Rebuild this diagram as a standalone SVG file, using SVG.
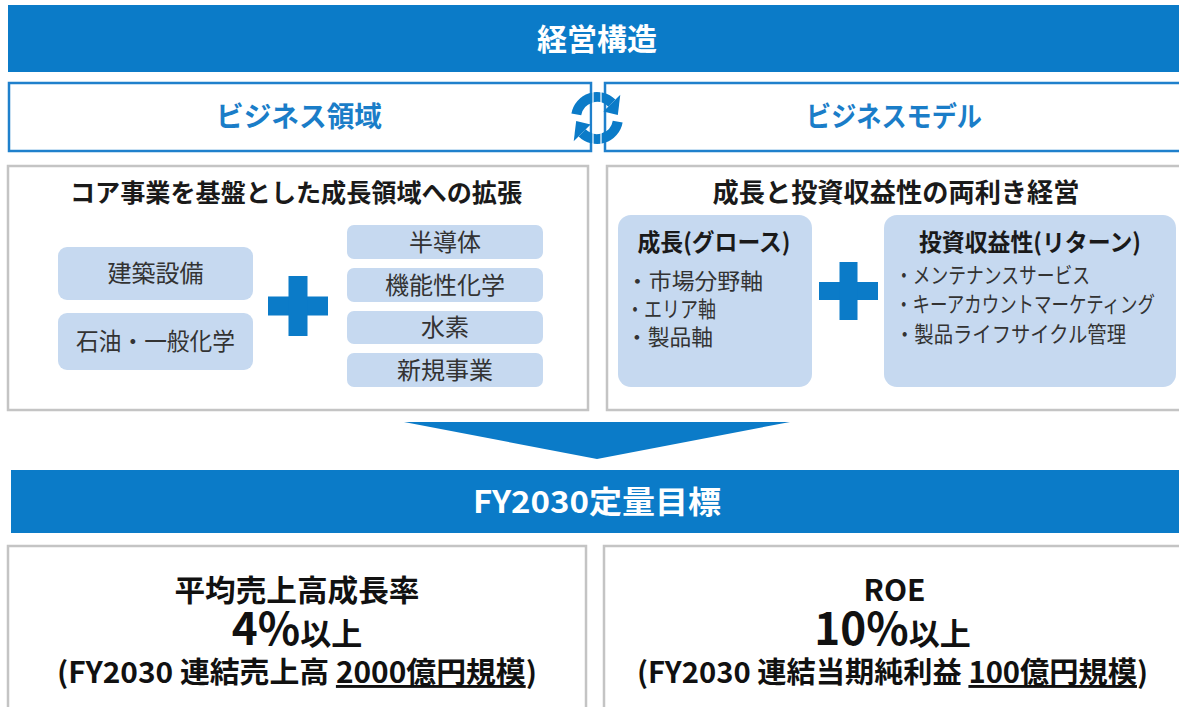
<svg xmlns="http://www.w3.org/2000/svg" width="1179" height="707" viewBox="0 0 1179 707">
<defs>
<style>
.bar{fill:#0B7BC8}
.bluebox{fill:#FFFFFF;stroke:#1F80CC;stroke-width:2.5}
.graybox{fill:#FFFFFF;stroke:#C4C4C4;stroke-width:2.5}
.pill{fill:#C6D9F0}
.plus{fill:#0B7BC8}
text{font-family:"Noto Sans CJK JP","Noto Sans",sans-serif}
.wt{fill:#FFFFFF;font-weight:700;text-anchor:middle}
.bt{fill:#1A7DC8;font-weight:700;font-size:28px;text-anchor:middle}
.ttl{fill:#1A1A1A;font-weight:700;text-anchor:middle}
.pt{fill:#333333;font-size:24px;text-anchor:middle}
.it{fill:#333333;font-size:22px}
.big{fill:#111111;font-weight:700;text-anchor:middle}
</style>
</defs>

<g id="header-structure">
<rect class="bar" x="8" y="5" width="1180" height="67"/>
<text class="wt" x="597" y="50" font-size="30">経営構造</text>
</g>

<g id="business-domain">
<rect class="bluebox" x="9" y="83" width="582" height="68"/>
<text class="bt" x="299" y="127" textLength="166" lengthAdjust="spacingAndGlyphs">ビジネス領域</text>
</g>

<g id="business-model">
<rect class="bluebox" x="605" y="83" width="600" height="68"/>
<text class="bt" x="894" y="127" textLength="176" lengthAdjust="spacingAndGlyphs">ビジネスモデル</text>
</g>

<g id="cycle-icon" fill="#0B7BC8" stroke="none">
<path d="M 576.3 114.4 A 21 21 0 0 1 611.85 103.15" fill="none" stroke="#0B7BC8" stroke-width="10"/>
<polygon points="603.4,111.6 620.3,94.7 617.8,115.1"/>
<path d="M 617.7 121.6 A 21 21 0 0 1 582.15 132.85" fill="none" stroke="#0B7BC8" stroke-width="10"/>
<polygon points="590.6,124.4 573.7,141.3 576.2,120.9"/>
<line x1="593" y1="92" x2="593" y2="144" stroke="#FFFFFF" stroke-width="1.2"/>
<line x1="601" y1="92" x2="601" y2="144" stroke="#FFFFFF" stroke-width="1.2"/>
</g>

<g id="core-expansion">
<rect class="graybox" x="8" y="166" width="580" height="244"/>
<text class="ttl" x="296" y="202" font-size="25" textLength="452" lengthAdjust="spacingAndGlyphs">コア事業を基盤とした成長領域への拡張</text>
<g id="pill-kenchiku"><rect class="pill" x="58" y="247" width="195" height="53" rx="9"/><text class="pt" x="155.5" y="282">建築設備</text></g>
<g id="pill-sekiyu"><rect class="pill" x="58" y="313" width="195" height="57" rx="9"/><text class="pt" x="155.5" y="349.5" textLength="159" lengthAdjust="spacingAndGlyphs">石油・一般化学</text></g>
<g id="plus-left"><rect class="plus" x="268" y="296.5" width="60" height="19"/><rect class="plus" x="288.5" y="276" width="19" height="60"/></g>
<g id="pill-handoutai"><rect class="pill" x="347" y="225" width="196" height="34" rx="7"/><text class="pt" x="445" y="250.5">半導体</text></g>
<g id="pill-kinousei"><rect class="pill" x="347" y="268" width="196" height="34" rx="7"/><text class="pt" x="445" y="293.5">機能性化学</text></g>
<g id="pill-suiso"><rect class="pill" x="347" y="311" width="196" height="33" rx="7"/><text class="pt" x="445" y="336">水素</text></g>
<g id="pill-shinki"><rect class="pill" x="347" y="353" width="196" height="34" rx="7"/><text class="pt" x="445" y="378.5">新規事業</text></g>
</g>

<g id="ambidextrous">
<rect class="graybox" x="607" y="166" width="600" height="244"/>
<text class="ttl" x="896" y="202" font-size="26" textLength="367" lengthAdjust="spacingAndGlyphs">成長と投資収益性の両利き経営</text>
<g id="growth">
<rect class="pill" x="618" y="215" width="194" height="172" rx="13"/>
<text class="ttl" x="714" y="251" font-size="24" textLength="153" lengthAdjust="spacingAndGlyphs">成長(グロース)</text>
<text class="it" x="626" y="289" textLength="137" lengthAdjust="spacingAndGlyphs">・市場分野軸</text>
<text class="it" x="626" y="317" textLength="90" lengthAdjust="spacingAndGlyphs">・エリア軸</text>
<text class="it" x="626" y="345" textLength="87" lengthAdjust="spacingAndGlyphs">・製品軸</text>
</g>
<g id="plus-right"><rect class="plus" x="819" y="282" width="59" height="18"/><rect class="plus" x="839.5" y="262" width="18" height="58"/></g>
<g id="return">
<rect class="pill" x="884" y="215" width="292" height="172" rx="13"/>
<text class="ttl" x="1030" y="251" font-size="24" textLength="222" lengthAdjust="spacingAndGlyphs">投資収益性(リターン)</text>
<text class="it" x="895" y="283" textLength="195" lengthAdjust="spacingAndGlyphs">・メンテナンスサービス</text>
<text class="it" x="895" y="312" textLength="260" lengthAdjust="spacingAndGlyphs">・キーアカウントマーケティング</text>
<text class="it" x="895" y="342" textLength="231" lengthAdjust="spacingAndGlyphs">・製品ライフサイクル管理</text>
</g>
</g>

<g id="connectors">
<polygon points="404,422 790,422 597,459" fill="#0B7BC8"/>
</g>

<g id="header-targets">
<rect class="bar" x="11" y="470" width="1180" height="63"/>
<text class="wt" x="597" y="513" font-size="31" textLength="248" lengthAdjust="spacingAndGlyphs">FY2030定量目標</text>
</g>

<g id="target-growth">
<rect class="graybox" x="8" y="546" width="578" height="200"/>
<text class="big" x="297" y="601" font-size="30" textLength="245" lengthAdjust="spacingAndGlyphs">平均売上高成長率</text>
<text class="big" x="297" y="645"><tspan font-size="44">4%</tspan><tspan font-size="31">以上</tspan></text>
<text class="big" x="297" y="683" font-size="29" textLength="480" lengthAdjust="spacingAndGlyphs">(FY2030 連結売上高 <tspan text-decoration="underline">2000億円規模</tspan>)</text>
</g>

<g id="target-roe">
<rect class="graybox" x="604" y="546" width="600" height="200"/>
<text class="big" x="894.5" y="601" font-size="30">ROE</text>
<text class="big" x="892.5" y="645"><tspan font-size="44">10%</tspan><tspan font-size="31">以上</tspan></text>
<text class="big" x="892.5" y="683" font-size="29" textLength="511" lengthAdjust="spacingAndGlyphs">(FY2030 連結当期純利益 <tspan text-decoration="underline">100億円規模</tspan>)</text>
</g>
</svg>
